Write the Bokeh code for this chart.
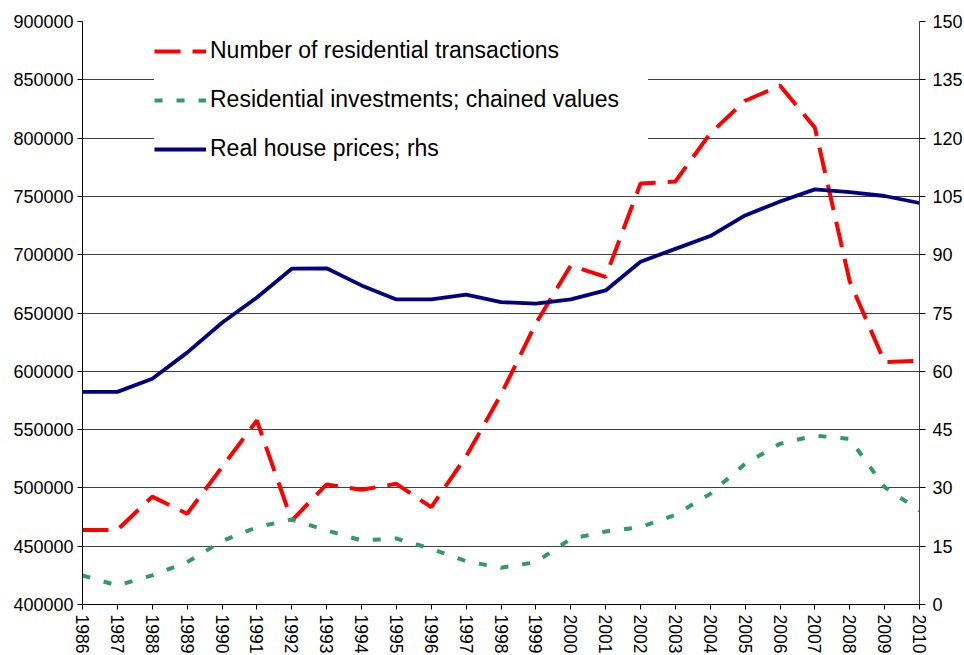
from bokeh.plotting import figure
from bokeh.models import (Range1d, LinearAxis, FixedTicker, Legend, LegendItem,
                          ColumnDataSource, NumeralTickFormatter)
from bokeh.embed import file_html
from bokeh.resources import INLINE

years = list(range(1986, 2011))
transactions = [464000, 464000, 492500, 477800, 517800, 557800, 472000, 503000, 498400, 503500,
                483500, 527000, 580000, 641000, 690700, 681000, 761000, 762800, 804000, 832000,
                845000, 809000, 677000, 607800, 609000]
investments = [424900, 416300, 425000, 436300, 454300, 466300, 472900, 463500, 454900, 456600,
               447800, 437100, 431500, 436300, 456300, 462600, 466300, 476900, 494900, 520700,
               537800, 544900, 542100, 500600, 480600]
house_prices = [54.7, 54.7, 58.1, 64.8, 72.5, 79.0, 86.4, 86.5, 82.1, 78.5,
                78.5, 79.7, 77.8, 77.4, 78.5, 80.8, 88.2, 91.5, 94.8, 100.1,
                103.7, 106.8, 106.1, 105.1, 103.3]
left_ticks = list(range(400000, 900001, 50000))
right_ticks = list(range(0, 151, 15))
labels = ["Number of residential transactions",
          "Residential investments; chained values",
          "Real house prices; rhs"]

src = ColumnDataSource(dict(year=years, tr=transactions, inv=investments, hp=house_prices))

FONT = "Liberation Sans"

p = figure(frame_width=837, frame_height=583, output_backend="svg", toolbar_location=None,
           x_range=Range1d(1986, 2010), y_range=Range1d(400000, 900000),
           min_border_left=82, min_border_right=45, min_border_top=21, min_border_bottom=50)
p.outline_line_color = None
p.background_fill_color = "white"
p.border_fill_color = "white"
p.extra_y_ranges = {"rhs": Range1d(0, 150)}

r1 = p.line("year", "tr", source=src, line_color="#FF0000", line_width=4, line_dash="26 12")
r2 = p.line("year", "inv", source=src, line_color="#339966", line_width=4, line_dash="8 14")
r3 = p.line("year", "hp", source=src, y_range_name="rhs", line_color="#000080", line_width=3.8,
            line_join="round")

def style_axis(ax):
    ax.axis_line_color = "black"
    ax.major_tick_line_color = "black"
    ax.major_tick_out = 5
    ax.major_tick_in = 0
    ax.minor_tick_line_color = None
    ax.major_label_text_font = FONT
    ax.major_label_text_font_size = "18px"
    ax.major_label_text_color = "black"
    ax.major_label_standoff = 4

p.xaxis.ticker = FixedTicker(ticks=years)
p.xaxis.major_label_orientation = "vertical"
p.yaxis.ticker = FixedTicker(ticks=left_ticks)
p.yaxis.formatter = NumeralTickFormatter(format="0")
style_axis(p.xaxis[0])
style_axis(p.yaxis[0])
p.xaxis[0].major_label_standoff = 5
p.xaxis[0].major_label_text_font_size = "17.5px"

rax = LinearAxis(y_range_name="rhs", ticker=FixedTicker(ticks=right_ticks))
style_axis(rax)
rax.axis_line_color = "#404040"
rax.major_tick_out = 6
rax.major_label_standoff = 7
p.add_layout(rax, "right")

p.xgrid.grid_line_color = None
p.ygrid.ticker = FixedTicker(ticks=left_ticks)
p.ygrid.grid_line_color = "#404040"
p.ygrid.grid_line_width = 1

legend = Legend(items=[LegendItem(label=labels[0], renderers=[r1]),
                       LegendItem(label=labels[1], renderers=[r2]),
                       LegendItem(label=labels[2], renderers=[r3])],
                location=(72, 442), orientation="vertical")
legend.background_fill_color = "white"
legend.background_fill_alpha = 1
legend.border_line_color = None
legend.label_text_font = FONT
legend.label_text_font_size = "23px"
legend.label_text_color = "black"
legend.glyph_width = 52
legend.glyph_height = 26
legend.label_height = 26
legend.label_width = 438
legend.label_standoff = 4
legend.spacing = 22
legend.padding = 15
legend.margin = 0
p.add_layout(legend, "center")

open("out.html", "w").write(file_html(p, INLINE))
